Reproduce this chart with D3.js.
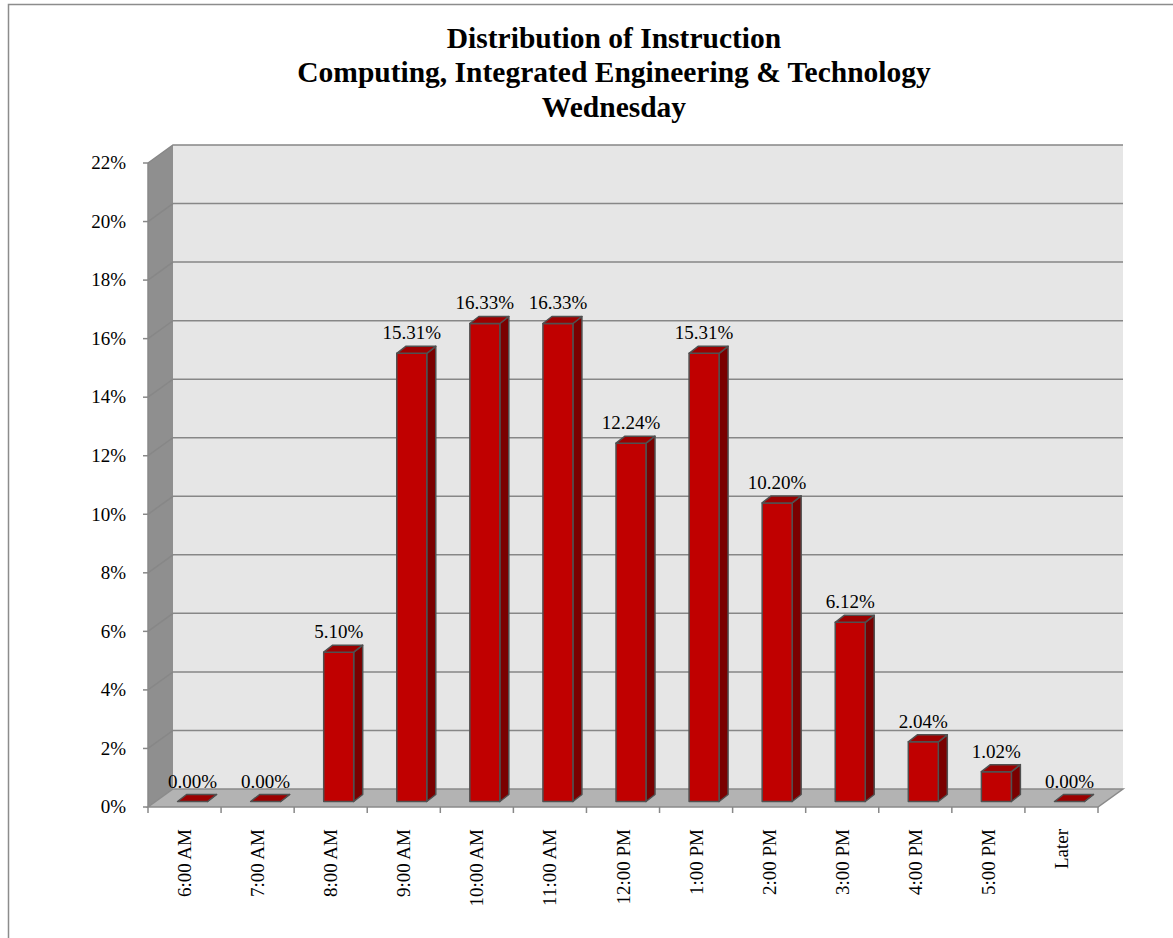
<!DOCTYPE html>
<html>
<head>
<meta charset="utf-8">
<script src="https://cdn.jsdelivr.net/npm/d3@7"></script>
<style>
  body { margin: 0; background: #fff; }
  svg text { font-family: "Liberation Serif", "Times New Roman", serif; fill: #000; }
</style>
</head>
<body>
<div id="vis"></div>
<script>
// data
const categories = ["6:00 AM", "7:00 AM", "8:00 AM", "9:00 AM", "10:00 AM", "11:00 AM",
  "12:00 PM", "1:00 PM", "2:00 PM", "3:00 PM", "4:00 PM", "5:00 PM", "Later"];
const values = [0.00, 0.00, 5.10, 15.31, 16.33, 16.33, 12.24, 15.31, 10.20, 6.12, 2.04, 1.02, 0.00];
const yTicks = [0, 2, 4, 6, 8, 10, 12, 14, 16, 18, 20, 22];
const titleLines = ["Distribution of Instruction",
  "Computing, Integrated Engineering & Technology", "Wednesday"];

function draw() {
  const width = 1173;
  const height = 938;

  // front plane of the 3d box, depth vector goes up/right
  const pLeft = 148, pRight = 1098, pBottom = 807, pTop = 163;
  const depth = { x: 25, y: -18 };
  // bar sits in the middle of the floor depth
  const barOff = { x: 8, y: -5.5 };
  const barDepth = { x: 9, y: -7 };
  const barWidth = 30;
  const fontSize = "19px";

  const x = d3.scaleBand().domain(categories).range([pLeft, pRight]).padding(0);
  const y = d3.scaleLinear().domain([0, 22]).range([pBottom, pTop]);

  const svg = d3.select("#vis").append("svg")
    .attr("width", width)
    .attr("height", height);

  // outer chart border
  svg.append("rect")
    .attr("x", 8.5).attr("y", 4.5)
    .attr("width", width + 20).attr("height", height + 20)
    .attr("fill", "none")
    .attr("stroke", "#8c8c8c")
    .attr("stroke-width", 1.5);

  // title
  svg.append("text")
    .attr("text-anchor", "middle")
    .style("font-weight", "bold")
    .style("font-size", "29.5px")
    .selectAll("tspan")
    .data(titleLines)
    .join("tspan")
    .attr("x", 614)
    .attr("y", (d, i) => 47.5 + i * 34.5)
    .text(d => d);

  const pts = arr => arr.map(p => p.join(",")).join(" ");

  // back wall
  svg.append("polygon")
    .attr("points", pts([
      [pLeft + depth.x, pTop + depth.y], [pRight + depth.x, pTop + depth.y],
      [pRight + depth.x, pBottom + depth.y], [pLeft + depth.x, pBottom + depth.y]]))
    .attr("fill", "#e6e6e6");

  // side wall
  svg.append("polygon")
    .attr("points", pts([
      [pLeft, pTop], [pLeft + depth.x, pTop + depth.y],
      [pLeft + depth.x, pBottom + depth.y], [pLeft, pBottom]]))
    .attr("fill", "#8f8f8f");

  // gridlines (side wall diagonal + back wall)
  const grid = svg.append("g").attr("stroke", "#878787").attr("stroke-width", 1.5).attr("fill", "none");
  grid.selectAll("polyline")
    .data(yTicks.filter(d => d > 0))
    .join("polyline")
    .attr("points", d => pts([
      [pLeft, y(d)], [pLeft + depth.x, y(d) + depth.y], [pRight + depth.x, y(d) + depth.y]]));

  // floor
  svg.append("polygon")
    .attr("points", pts([
      [pLeft, pBottom], [pLeft + depth.x, pBottom + depth.y],
      [pRight + depth.x, pBottom + depth.y], [pRight, pBottom]]))
    .attr("fill", "#b3b3b3")
    .attr("stroke", "#8a8a8a")
    .attr("stroke-width", 1.5);

  // y axis ticks and labels
  const yAxis = svg.append("g");
  yAxis.selectAll("line")
    .data(yTicks)
    .join("line")
    .attr("x1", pLeft - 5).attr("x2", pLeft)
    .attr("y1", d => y(d)).attr("y2", d => y(d))
    .attr("stroke", "#888").attr("stroke-width", 1.5);
  yAxis.append("line")
    .attr("x1", pLeft).attr("x2", pLeft)
    .attr("y1", pTop).attr("y2", pBottom)
    .attr("stroke", "#888").attr("stroke-width", 1.5);
  yAxis.selectAll("text")
    .data(yTicks)
    .join("text")
    .attr("x", 126)
    .attr("y", d => y(d))
    .attr("dy", "0.33em")
    .attr("text-anchor", "end")
    .style("font-size", fontSize)
    .text(d => d + "%");

  // x axis ticks and labels
  const xAxis = svg.append("g");
  xAxis.selectAll("line")
    .data(d3.range(categories.length + 1))
    .join("line")
    .attr("x1", i => pLeft + i * x.bandwidth())
    .attr("x2", i => pLeft + i * x.bandwidth())
    .attr("y1", pBottom).attr("y2", pBottom + 6)
    .attr("stroke", "#888").attr("stroke-width", 1.5);
  xAxis.selectAll("text")
    .data(categories)
    .join("text")
    .attr("transform", d => `translate(${x(d) + x.bandwidth() / 2 + 6.5},829) rotate(-90)`)
    .attr("text-anchor", "end")
    .style("font-size", fontSize)
    .text(d => d);

  const rows = categories.map((c, i) => ({ cat: c, value: values[i] }));

  // bars
  const bars = svg.append("g")
    .selectAll("g")
    .data(rows)
    .join("g")
    .attr("stroke", "#505050")
    .attr("stroke-width", 1.5)
    .attr("stroke-linejoin", "round");

  const fx0 = d => x(d.cat) + (x.bandwidth() - barWidth) / 2 + barOff.x;
  const fy0 = pBottom + barOff.y;
  const fyTop = d => y(d.value) + barOff.y;

  // side face
  bars.append("polygon")
    .attr("points", d => {
      const x1 = fx0(d) + barWidth;
      return pts([[x1, fyTop(d)], [x1 + barDepth.x, fyTop(d) + barDepth.y],
        [x1 + barDepth.x, fy0 + barDepth.y], [x1, fy0]]);
    })
    .attr("fill", "#7a0000");

  // front face
  bars.append("rect")
    .attr("x", d => fx0(d))
    .attr("y", d => fyTop(d))
    .attr("width", barWidth)
    .attr("height", d => fy0 - fyTop(d))
    .attr("fill", "#c00000");

  // top face
  bars.append("polygon")
    .attr("points", d => {
      const x0 = fx0(d), t = fyTop(d);
      return pts([[x0, t], [x0 + barDepth.x, t + barDepth.y],
        [x0 + barWidth + barDepth.x, t + barDepth.y], [x0 + barWidth, t]]);
    })
    .attr("fill", "#9c0000");

  // value labels
  svg.append("g")
    .selectAll("text")
    .data(rows)
    .join("text")
    .attr("x", d => fx0(d) + barWidth / 2)
    .attr("y", d => fyTop(d) + barDepth.y - 7)
    .attr("text-anchor", "middle")
    .style("font-size", fontSize)
    .text(d => d.value.toFixed(2) + "%");
}

draw();
</script>
</body>
</html>
